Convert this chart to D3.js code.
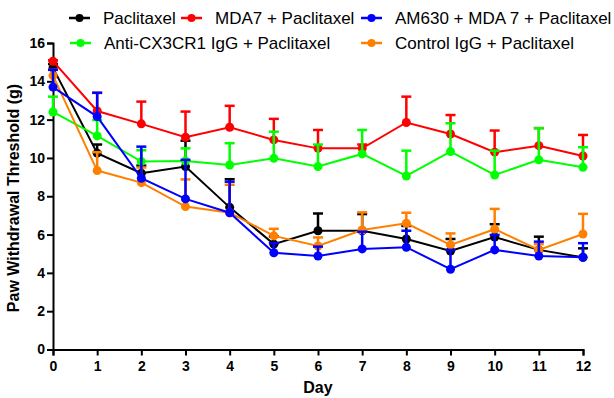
<!DOCTYPE html>
<html>
<head>
<meta charset="utf-8">
<script src="https://cdn.jsdelivr.net/npm/d3@7"></script>
<style>
  body { margin: 0; background: #fff; }
  text { font-family: "Liberation Sans", Arial, sans-serif; }
</style>
</head>
<body>
<div id="chart"></div>
<script>
var days = [0, 1, 2, 3, 4, 5, 6, 7, 8, 9, 10, 11, 12];
var yTicks = [0, 2, 4, 6, 8, 10, 12, 14, 16];

// means and upper error bar ends
var paclitaxel      = [14.7, 10.25, 9.2, 9.55, 7.42, 5.5, 6.2, 6.2, 5.77, 5.14, 5.87, 5.2, 4.81];
var paclitaxelUp    = [14.9, 10.7, 9.6, 10.9, 8.89, 5.9, 7.1, 7.07, 6.45, 5.77, 6.54, 5.89, 5.28];
var mda7            = [15.05, 12.45, 11.78, 11.08, 11.6, 10.94, 10.5, 10.5, 11.85, 11.25, 10.3, 10.64, 10.1];
var mda7Up          = [15.1, 13.4, 12.94, 12.42, 12.72, 12.04, 11.46, 10.7, 13.2, 12.24, 11.43, 11.56, 11.2];
var am630           = [13.7, 12.16, 8.94, 7.86, 7.14, 5.05, 4.88, 5.25, 5.34, 4.19, 5.2, 4.88, 4.81];
var am630Up         = [14.6, 13.4, 10.59, 9.9, 8.76, 5.56, 5.37, 6.15, 6.2, 5.2, 5.98, 5.63, 5.55];
var antiCx3cr1      = [12.4, 11.15, 9.81, 9.84, 9.63, 9.98, 9.55, 10.21, 9.06, 10.33, 9.11, 9.9, 9.51];
var antiCx3cr1Up    = [13.2, 11.98, 10.4, 10.5, 10.77, 11.37, 10.7, 11.46, 10.38, 11.81, 10.38, 11.55, 10.56];
var controlIgg      = [14.3, 9.34, 8.71, 7.46, 7.14, 5.93, 5.4, 6.24, 6.59, 5.46, 6.28, 5.2, 6.03];
var controlIggUp    = [14.6, 10.3, 9.5, 8.88, 8.6, 6.3, 5.85, 7.16, 7.14, 6.06, 7.34, 5.5, 7.08];

var series = [
  {name: 'Paclitaxel', color: '#000000', mean: paclitaxel, up: paclitaxelUp},
  {name: 'MDA7 + Paclitaxel', color: '#ff0000', mean: mda7, up: mda7Up},
  {name: 'Anti-CX3CR1 IgG + Paclitaxel', color: '#00ff00', mean: antiCx3cr1, up: antiCx3cr1Up},
  {name: 'Control IgG + Paclitaxel', color: '#ff8000', mean: controlIgg, up: controlIggUp},
  {name: 'AM630 + MDA 7 + Paclitaxel', color: '#0000ff', mean: am630, up: am630Up}
];

var W = 614, H = 398;
var svg = d3.select('#chart').append('svg')
  .attr('width', W)
  .attr('height', H);

var x = d3.scaleLinear().domain([0, 12]).range([53, 583]);
var y = d3.scaleLinear().domain([0, 16]).range([349.5, 43]);

// axes
var xAxis = svg.append('g')
  .attr('transform', 'translate(0,' + y(0) + ')')
  .call(d3.axisBottom(x).tickValues(days).tickFormat(d3.format('d')).tickSizeOuter(0).tickSize(6));
var yAxis = svg.append('g')
  .attr('transform', 'translate(' + x(0) + ',0)')
  .call(d3.axisLeft(y).tickValues(yTicks).tickSizeOuter(0).tickSize(6));

[xAxis, yAxis].forEach(function(a) {
  a.select('.domain').attr('stroke', '#000').attr('stroke-width', 2);
  a.selectAll('.tick line').attr('stroke', '#000').attr('stroke-width', 2);
  a.selectAll('.tick text')
    .attr('fill', '#000')
    .style('font-family', '"Liberation Sans", Arial, sans-serif')
    .style('font-size', '14px')
    .style('font-weight', 'bold');
});
xAxis.selectAll('.tick text').attr('dy', '0.9em');
yAxis.selectAll('.tick text').attr('x', -8);

svg.append('text')
  .attr('x', 318).attr('y', 393)
  .attr('text-anchor', 'middle')
  .style('font-size', '16px').style('font-weight', 'bold')
  .text('Day');

svg.append('text')
  .attr('transform', 'translate(19,' + 198 + ') rotate(-90)')
  .attr('text-anchor', 'middle')
  .style('font-size', '16px').style('font-weight', 'bold')
  .text('Paw Withdrawal Threshold (g)');

var line = d3.line()
  .x(function(d, i) { return x(days[i]); })
  .y(function(d) { return y(d); });

series.forEach(function(s) {
  var g = svg.append('g');
  // error bars (upper only)
  days.forEach(function(d, i) {
    g.append('line')
      .attr('x1', x(d)).attr('x2', x(d))
      .attr('y1', y(s.mean[i])).attr('y2', y(s.up[i]))
      .attr('stroke', s.color).attr('stroke-width', 2.5);
    g.append('line')
      .attr('x1', x(d) - 5).attr('x2', x(d) + 5)
      .attr('y1', y(s.up[i])).attr('y2', y(s.up[i]))
      .attr('stroke', s.color).attr('stroke-width', 2.5);
  });
  g.append('path')
    .datum(s.mean)
    .attr('d', line)
    .attr('fill', 'none')
    .attr('stroke', s.color)
    .attr('stroke-width', 2);
  g.selectAll('circle')
    .data(s.mean)
    .enter().append('circle')
    .attr('cx', function(d, i) { return x(days[i]); })
    .attr('cy', function(d) { return y(d); })
    .attr('r', 4.5)
    .attr('fill', s.color);
});

// legend
var legendItems = [
  {s: series[0], x: 69, y: 18},
  {s: series[1], x: 181, y: 18},
  {s: series[4], x: 361, y: 18},
  {s: series[2], x: 70, y: 43},
  {s: series[3], x: 361, y: 43}
];
legendItems.forEach(function(l) {
  var g = svg.append('g').attr('transform', 'translate(' + l.x + ',' + l.y + ')');
  g.append('line').attr('x1', 0).attr('x2', 21).attr('y1', 0).attr('y2', 0)
    .attr('stroke', l.s.color).attr('stroke-width', 2.5);
  g.append('circle').attr('cx', 10.5).attr('cy', 0).attr('r', 4).attr('fill', l.s.color);
  g.append('text').attr('x', 34).attr('y', 0).attr('dy', '0.35em')
    .style('font-size', '17px').attr('fill', '#000')
    .text(l.s.name);
});
</script>
</body>
</html>
